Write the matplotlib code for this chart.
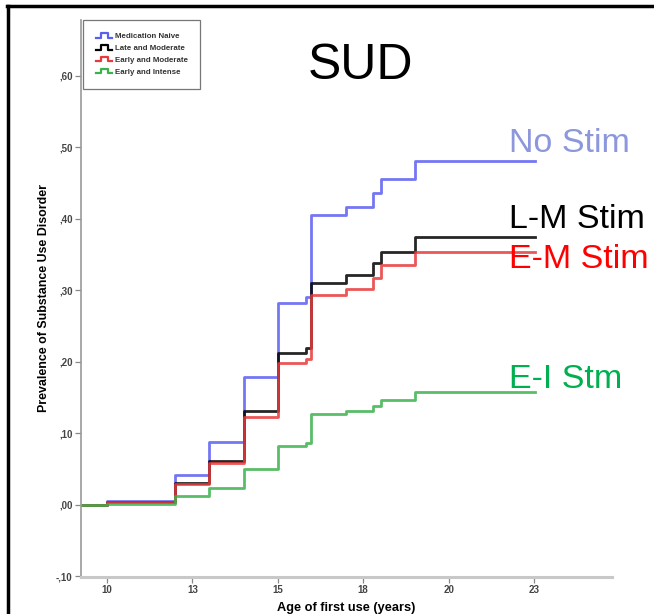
import numpy as np
import matplotlib
matplotlib.use("Agg")
from matplotlib import pyplot as plt
from matplotlib.legend_handler import HandlerBase
from matplotlib.lines import Line2D

plt.rcParams['font.family'] = ['Liberation Sans', 'DejaVu Sans']

# age ticks are evenly spaced on the plot (rank scale)
ageTicks = [10, 13, 15, 18, 20, 23]
tickPos = [0, 1, 2, 3, 4, 5]

# step positions (in tick units) and cumulative prevalence after each step
stepX = [-0.3, 0.0, 0.80, 1.20, 1.60, 2.00, 2.33, 2.39, 2.80, 3.11, 3.21, 3.61, 5.01]
naive = [0.0, 0.005, 0.042, 0.088, 0.179, 0.283, 0.291, 0.405, 0.417, 0.436, 0.456, 0.481, 0.481]
lateMod = [0.0, 0.004, 0.031, 0.062, 0.131, 0.212, 0.219, 0.310, 0.322, 0.338, 0.353, 0.375, 0.375]
earlyMod = [0.0, 0.004, 0.029, 0.059, 0.123, 0.198, 0.204, 0.293, 0.302, 0.317, 0.335, 0.354, 0.354]
earlyInt = [0.0, 0.002, 0.012, 0.024, 0.050, 0.083, 0.087, 0.127, 0.131, 0.139, 0.147, 0.158, 0.158]

groupNames = ["Medication Naive", "Late and Moderate", "Early and Moderate", "Early and Intense"]
shortNames = ["No Stim", "L-M Stim", "E-M Stim", "E-I Stm"]
lineColors = ["#5b5ff0", "#000000", "#e83a3a", "#3cb24c"]
labelColors = ["#8c97dc", "#000000", "#ff0000", "#00b050"]

yTicks = [-0.10, 0.0, 0.10, 0.20, 0.30, 0.40, 0.50, 0.60]
yTickLabels = ["-,10", ",00", ",10", ",20", ",30", ",40", ",50", ",60"]


class StepHandler(HandlerBase):
    # little step-shaped legend key, like the SPSS ones
    def create_artists(self, legend, orig, xd, yd, w, h, fontsize, trans):
        xs = [xd, xd + w * 0.35, xd + w * 0.35, xd + w * 0.75, xd + w * 0.75, xd + w]
        ys = [yd + h * 0.1, yd + h * 0.1, yd + h * 0.9, yd + h * 0.9, yd + h * 0.1, yd + h * 0.1]
        ln = Line2D(xs, ys, color=orig.get_color(), lw=1.6, transform=trans)
        return [ln]


W, H = 654, 614
fig = plt.figure(figsize=(W / 100, H / 100), dpi=100)
ax = fig.add_axes([81 / W, 1 - 577 / H, (612 - 81) / W, (577 - 20) / H])

series = [naive, lateMod, earlyMod, earlyInt]
handles = []
for vals, col, name in zip(series, lineColors, groupNames):
    h, = ax.step(stepX, vals, where="post", color=col, lw=2.0, alpha=0.85, label=name)
    handles.append(h)

ax.set_xlim(-0.304, 5.913)
ax.set_ylim(-0.1007, 0.678)
ax.set_xticks(tickPos)
ax.set_xticklabels([str(a) for a in ageTicks])
ax.set_yticks(yTicks)
ax.set_yticklabels(yTickLabels)

for s in ["top", "right"]:
    ax.spines[s].set_visible(False)
ax.spines["left"].set_color("#999999")
ax.spines["left"].set_linewidth(1.2)
ax.spines["bottom"].set_color("#c8c8c8")
ax.spines["bottom"].set_linewidth(2.2)
ax.tick_params(axis="both", direction="out", length=4, width=0.9, color="#888888",
               labelsize=7, labelcolor="#444444", pad=2)
for t in ax.get_xticklabels() + ax.get_yticklabels():
    t.set_fontweight("bold")

ax.set_xlabel("Age of first use (years)", fontsize=9.2, fontweight="bold", labelpad=5)
ax.set_ylabel("Prevalence of Substance Use Disorder", fontsize=8.9, fontweight="bold", labelpad=4)

leg = ax.legend(handles=handles, loc="upper left", bbox_to_anchor=(0.004, 1.0),
                handler_map={Line2D: StepHandler()}, fontsize=5.7, frameon=True,
                fancybox=False, edgecolor="#555555", handlelength=2.0, handletextpad=0.4,
                labelspacing=0.55, borderpad=1.6, borderaxespad=0)
leg.get_frame().set_linewidth(0.9)
for t in leg.get_texts():
    t.set_fontweight("bold")
    t.set_color("#333333")

# big annotations
fig.text(360 / W, 1 - 79 / H, "SUD", fontsize=36, ha="center", va="baseline")
labelBase = [152, 228, 268, 388]
for name, col, yb in zip(shortNames, labelColors, labelBase):
    fig.text(509 / W, 1 - yb / H, name, fontsize=24.5, color=col, ha="left", va="baseline")

# outer frame of the slide
fig.add_artist(Line2D([7 / W, 1.0], [1 - 6 / H, 1 - 6 / H], color="black", lw=2.5, transform=fig.transFigure))
fig.add_artist(Line2D([8 / W, 8 / W], [0.0, 1 - 6 / H], color="black", lw=2.5, transform=fig.transFigure))

fig.savefig("out.png", dpi=100)
